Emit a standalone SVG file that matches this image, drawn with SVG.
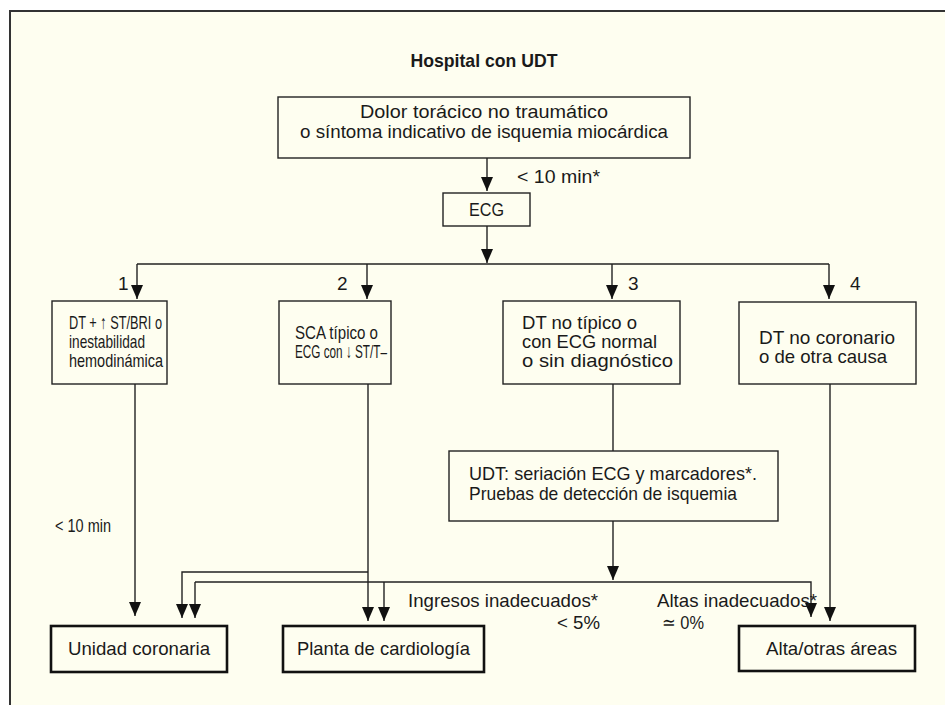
<svg xmlns="http://www.w3.org/2000/svg" width="945" height="705" viewBox="0 0 945 705">
<style>
text{font-family:"Liberation Sans",Arial,sans-serif;font-size:19px;fill:#1a1a1a}
.t{font-weight:bold}
.c{text-anchor:middle}
.box{fill:none;stroke:#222;stroke-width:1.4}
.end{fill:none;stroke:#111;stroke-width:2.6}
.ln{fill:none;stroke:#222;stroke-width:1.4}
</style>
<defs>
<marker id="a" markerUnits="userSpaceOnUse" markerWidth="14" markerHeight="12" viewBox="0 0 14 12" refX="14" refY="6" orient="auto">
<path d="M0 0 L14 6 L0 12 Z" fill="#111"/>
</marker>
</defs>
<rect x="0" y="0" width="945" height="705" fill="#ffffff"/>
<rect x="10" y="11" width="935" height="694" fill="#fefef0"/>
<path d="M10 705 V11 H945" fill="none" stroke="#333" stroke-width="2"/>
<text class="t c" x="484" y="67" textLength="147" lengthAdjust="spacingAndGlyphs">Hospital con UDT</text>
<g id="connectors">
<path class="ln" d="M487 158 V191" marker-end="url(#a)"/>
<path class="ln" d="M487 226 V263" marker-end="url(#a)"/>
<path class="ln" d="M137 264 H829"/>
<path class="ln" d="M137 264 V299" marker-end="url(#a)"/>
<path class="ln" d="M367 264 V299" marker-end="url(#a)"/>
<path class="ln" d="M612 264 V299" marker-end="url(#a)"/>
<path class="ln" d="M829 264 V299" marker-end="url(#a)"/>
<path class="ln" d="M135 384 V616" marker-end="url(#a)"/>
<path class="ln" d="M368 384 V621" marker-end="url(#a)"/>
<path class="ln" d="M368 572 H182 V618" marker-end="url(#a)"/>
<path class="ln" d="M613 384 V451"/>
<path class="ln" d="M613 521 V580" marker-end="url(#a)"/>
<path class="ln" d="M195 582 H811 V617" marker-end="url(#a)"/>
<path class="ln" d="M195 582 V618" marker-end="url(#a)"/>
<path class="ln" d="M384 582 V621" marker-end="url(#a)"/>
<path class="ln" d="M830 384 V621" marker-end="url(#a)"/>
</g>
<g id="n-start">
<rect class="box" x="278" y="97" width="412" height="61"/>
<text class="c" x="484" y="118" textLength="248" lengthAdjust="spacingAndGlyphs">Dolor torácico no traumático</text>
<text class="c" x="484" y="138" textLength="368" lengthAdjust="spacingAndGlyphs">o síntoma indicativo de isquemia miocárdica</text>
</g>
<text x="517" y="183" textLength="83" lengthAdjust="spacingAndGlyphs">&lt; 10 min*</text>
<g id="n-ecg">
<rect class="box" x="443" y="193" width="87" height="33"/>
<text x="469" y="216" textLength="35" lengthAdjust="spacingAndGlyphs">ECG</text>
</g>
<text x="118" y="290">1</text>
<text x="337" y="290">2</text>
<text x="628" y="290">3</text>
<text x="850" y="290">4</text>
<g id="n-1">
<rect class="box" x="52" y="301" width="115" height="83"/>
<text x="69" y="329" textLength="93" lengthAdjust="spacingAndGlyphs">DT + ↑ ST/BRI o</text>
<text x="69" y="348" textLength="76" lengthAdjust="spacingAndGlyphs">inestabilidad</text>
<text x="69" y="367" textLength="94" lengthAdjust="spacingAndGlyphs">hemodinámica</text>
</g>
<g id="n-2">
<rect class="box" x="279" y="301" width="112" height="83"/>
<text x="295" y="339" textLength="83" lengthAdjust="spacingAndGlyphs">SCA típico o</text>
<text x="295" y="358" textLength="92" lengthAdjust="spacingAndGlyphs">ECG con ↓ ST/T–</text>
</g>
<g id="n-3">
<rect class="box" x="503" y="301" width="177" height="83"/>
<text x="522" y="329" textLength="115" lengthAdjust="spacingAndGlyphs">DT no típico o</text>
<text x="522" y="348" textLength="135" lengthAdjust="spacingAndGlyphs">con ECG normal</text>
<text x="522" y="367" textLength="151" lengthAdjust="spacingAndGlyphs">o sin diagnóstico</text>
</g>
<g id="n-4">
<rect class="box" x="739" y="302" width="177" height="82"/>
<text x="759" y="344" textLength="136" lengthAdjust="spacingAndGlyphs">DT no coronario</text>
<text x="759" y="363" textLength="128" lengthAdjust="spacingAndGlyphs">o de otra causa</text>
</g>
<g id="n-udt">
<rect class="box" x="449" y="451" width="329" height="70"/>
<text x="469" y="480" textLength="288" lengthAdjust="spacingAndGlyphs">UDT: seriación ECG y marcadores*.</text>
<text x="469" y="500" textLength="268" lengthAdjust="spacingAndGlyphs">Pruebas de detección de isquemia</text>
</g>
<text x="55" y="532" textLength="56" lengthAdjust="spacingAndGlyphs">&lt; 10 min</text>
<text x="408" y="607" textLength="190" lengthAdjust="spacingAndGlyphs">Ingresos inadecuados*</text>
<text x="557" y="629" textLength="43" lengthAdjust="spacingAndGlyphs">&lt; 5%</text>
<text x="657" y="607" textLength="160" lengthAdjust="spacingAndGlyphs">Altas inadecuados*</text>
<text x="662" y="629" textLength="42" lengthAdjust="spacingAndGlyphs">≃ 0%</text>
<g id="n-uc">
<rect class="end" x="51" y="626" width="176" height="46"/>
<text x="68" y="655" textLength="142" lengthAdjust="spacingAndGlyphs">Unidad coronaria</text>
</g>
<g id="n-pc">
<rect class="end" x="283" y="626" width="201" height="46"/>
<text x="297" y="655" textLength="173" lengthAdjust="spacingAndGlyphs">Planta de cardiología</text>
</g>
<g id="n-alta">
<rect class="end" x="739" y="626" width="176" height="45"/>
<text x="766" y="655" textLength="131" lengthAdjust="spacingAndGlyphs">Alta/otras áreas</text>
</g>
</svg>
